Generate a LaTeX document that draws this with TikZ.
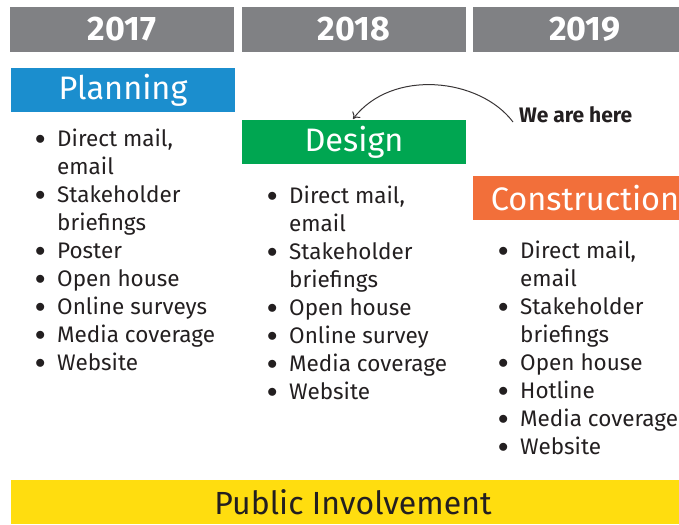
\documentclass[tikz,border=0pt]{standalone}
\usepackage{fontspec}
\setmainfont{Fira Sans}
\usetikzlibrary{arrows.meta}
\definecolor{hdr_gray}{RGB}{128, 129, 132}
\definecolor{ph_blue}{RGB}{27, 142, 206}
\definecolor{ph_green}{RGB}{0, 166, 81}
\definecolor{ph_orange}{RGB}{242, 111, 58}
\definecolor{pi_yellow}{RGB}{255, 221, 15}
\definecolor{txt_dark}{RGB}{35, 31, 32}
\tikzstyle{year}=[rectangle,fill=hdr_gray,text=white,inner sep=0pt,
  minimum width=224pt,minimum height=45pt,font=\fontsize{34}{34}\selectfont\bfseries]
\tikzstyle{phase}=[rectangle,text=white,inner sep=0pt,minimum width=224pt,
  minimum height=44pt,font=\fontsize{32.5}{32.5}\selectfont]
\tikzstyle{items}=[anchor=north west,inner sep=0pt,align=left,
  text=txt_dark,font=\fontsize{22.5}{28}\selectfont]
\tikzstyle{none}=[]
\newcommand{\itm}[1]{\makebox[22pt][l]{\raisebox{2.5pt}{$\bullet$}}#1}
\newcommand{\cnt}[1]{\hspace*{22pt}#1}

\begin{document}
\begin{tikzpicture}[x=1pt, y=-1pt]
            \useasboundingbox (0, 0) rectangle (679, 524);
            \node [style=year] (0) at (122, 29.5) {2017};
            \node [style=year] (1) at (354, 29.5) {2018};
            \node [style=year] (2) at (585, 29.5) {2019};
            \node [style=phase, fill=ph_blue] (3) at (123, 90) {Planning};
            \node [style=phase, fill=ph_green] (4) at (354, 142) {Design};
            \node [style=phase, fill=ph_orange] (5) at (585, 198) {Construction};
            \node [style=items] (6) at (35, 129) {\itm{Direct mail,}\\ \cnt{email}\\ \itm{Stakeholder}\\ \cnt{briefings}\\
              \itm{Poster}\\ \itm{Open house}\\ \itm{Online surveys}\\ \itm{Media coverage}\\ \itm{Website}};
            \node [style=items] (7) at (267, 186) {\itm{Direct mail,}\\ \cnt{email}\\ \itm{Stakeholder}\\ \cnt{briefings}\\
              \itm{Open house}\\ \itm{Online survey}\\ \itm{Media coverage}\\ \itm{Website}};
            \node [style=items] (8) at (498, 241) {\itm{Direct mail,}\\ \cnt{email}\\ \itm{Stakeholder}\\ \cnt{briefings}\\
              \itm{Open house}\\ \itm{Hotline}\\ \itm{Media coverage}\\ \itm{Website}};
            \node [rectangle, fill=pi_yellow, text=txt_dark, inner sep=0pt, minimum width=684pt,
              minimum height=44pt, font=\fontsize{32}{32}\selectfont] (9) at (353, 502) {Public Involvement};
            \node [style=none, anchor=west, inner sep=0pt, text=txt_dark, font=\fontsize{21}{21}\selectfont\bfseries] (10) at (519, 115) {We are here};
            \coordinate (11) at (353, 119);
            \draw [-{To[length=6pt,width=10pt]}, line width=1pt, draw=txt_dark!90] ([xshift=-6pt, yshift=-7pt]10.west) .. controls (480, 78) and (392, 68) .. (11);
    \end{tikzpicture}
\end{document}
